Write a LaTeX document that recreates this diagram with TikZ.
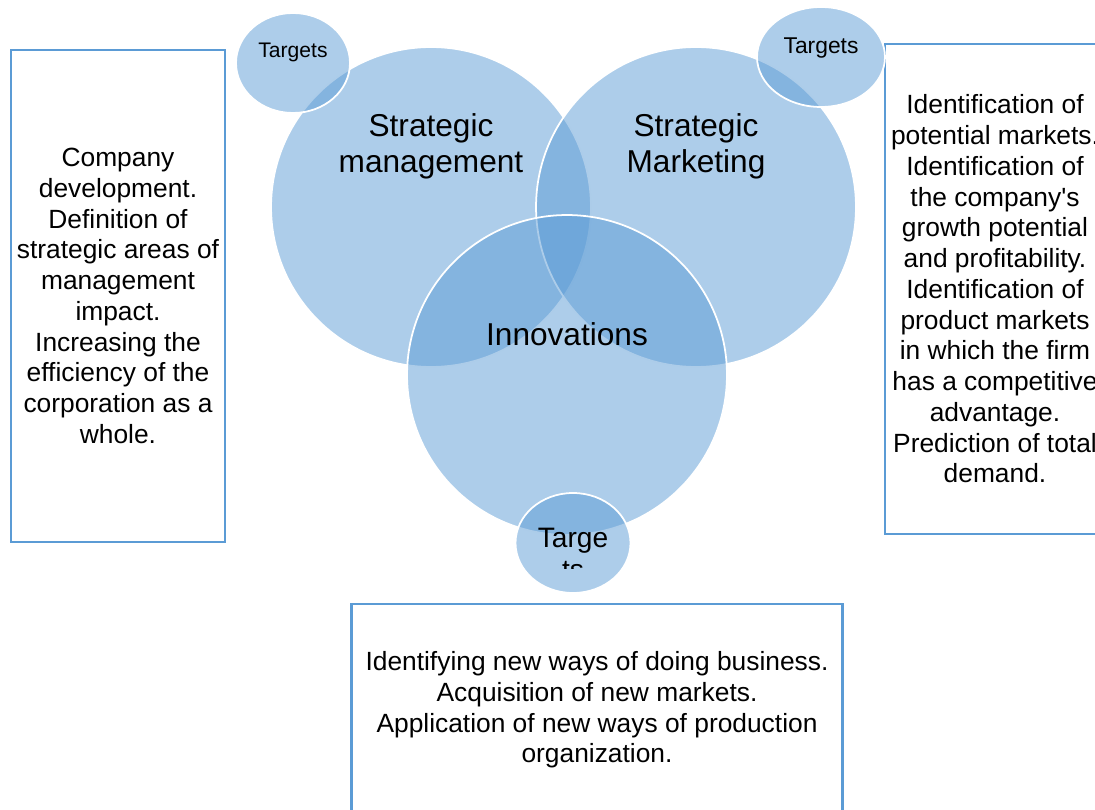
\documentclass[tikz,border=0pt]{standalone}
\usepackage{color}
\usepackage{fontspec}
\setmainfont{Liberation Sans}
\usepackage{tikz}
\usetikzlibrary{shapes.geometric}

\definecolor{accent}{RGB}{91,155,213}

\tikzset{
  venn/.style={circle,fill=accent,fill opacity=0.5,draw=white,line width=1pt,
    minimum size=6.4cm,inner sep=0pt},
  tgt/.style={ellipse,fill=accent,fill opacity=0.5,draw=white,line width=1pt,
    inner sep=0pt,minimum height=2cm},
  infobox/.style={rectangle,draw=accent,line width=1.2pt,align=center,
    font=\fontsize{15}{17.5}\selectfont},
  vlabel/.style={align=center,font=\fontsize{18}{20.5}\selectfont}
}

\begin{document}
\begin{tikzpicture}[x=0.02cm,y=-0.02cm]
  \useasboundingbox (0,0) rectangle (1095,810);
  \clip (0,0) rectangle (1095,810);
  % description boxes
  \node at (118,294) (boxL) [infobox,minimum width=4.24cm,minimum height=9.84cm,yshift=-0.04cm]
    {Company\\development.\\Definition of\\strategic areas of\\management\\impact.\\Increasing the\\efficiency of the\\corporation as a\\whole.};
  \node at (995,288) (boxR) [infobox,minimum width=4.36cm,minimum height=9.8cm,yshift=-0.02cm]
    {Identification of\\potential markets.\\Identification of\\the company\textquotesingle s\\growth potential\\and profitability.\\Identification of\\product markets\\in which the firm\\has a competitive\\advantage.\\Prediction of total\\demand.};
  \node at (597,708) (boxB) [infobox,minimum width=9.82cm,minimum height=4.24cm,yshift=-0.04cm]
    {Identifying new ways of doing business.\\Acquisition of new markets.\\Application of new ways of production\\organization.};
  % the three circles
  \node at (431,207) (mgmt) [venn] {};
  \node at (696,207) (mkt) [venn] {};
  \node at (567,375) (innov) [venn] {};
  % targets
  \node at (293,63) (tgtL) [tgt,minimum width=2.28cm] {};
  \node at (821,57) (tgtR) [tgt,minimum width=2.56cm] {};
  \node at (573,543) (tgtB) [tgt,minimum width=2.3cm] {};
  % labels
  \node at (431,146) (mgmttxt) [vlabel] {Strategic\\management};
  \node at (696,146) (mkttxt) [vlabel] {Strategic\\Marketing};
  \node at (567,334) (innovtxt) [vlabel] {Innovations};
  \node at (293,52) (tgtLtxt) [font=\fontsize{12}{14}\selectfont] {Targets};
  \node at (821,48) (tgtRtxt) [font=\fontsize{13}{15}\selectfont] {Targets};
  \begin{scope}
    \clip (510,490) rectangle (640,568);
    \node at (573,554) (tgtBtxt) [align=center,font=\fontsize{16}{18.5}\selectfont] {Targe\\ts};
  \end{scope}
\end{tikzpicture}
\end{document}
